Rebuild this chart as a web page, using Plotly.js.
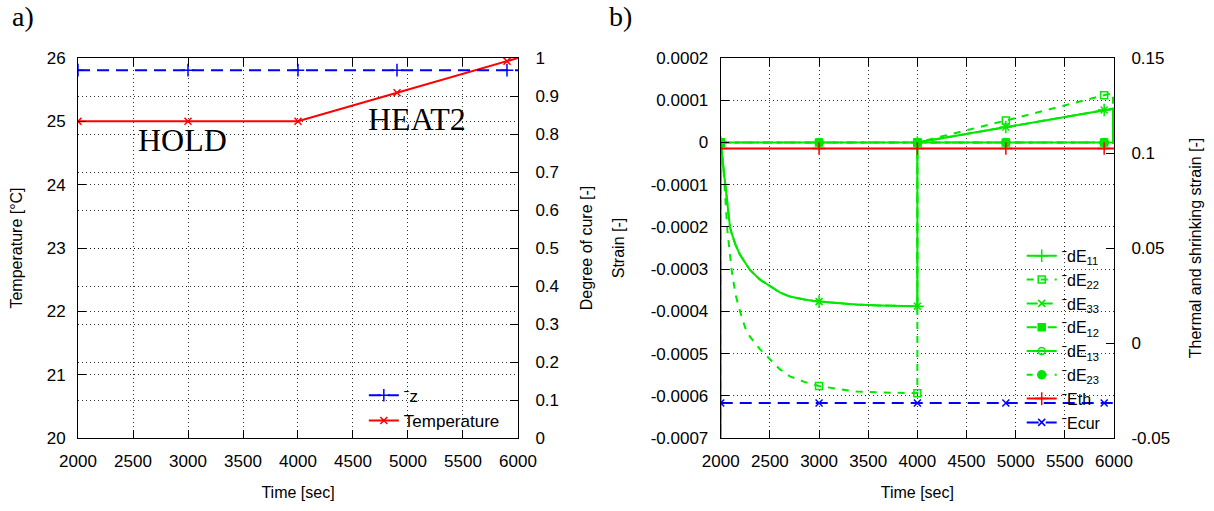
<!DOCTYPE html>
<html><head><meta charset="utf-8">
<script src="https://cdn.plot.ly/plotly-3.0.1.min.js"></script>
<style>html,body{margin:0;padding:0;background:#fff}#chart{width:1214px;height:511px}</style>
</head><body><div id="chart"></div>
<script>
// ---------- Panel a) data ----------
const timeA = [2000, 3000, 4000, 4900, 5900, 6000];
const temperature = [25, 25, 25, 25.45, 25.95, 26];
const cureZ = [0.968, 0.968, 0.968, 0.968, 0.968, 0.968];
const markerTimes = [2000, 3000, 4000, 4900, 5900];

// ---------- Panel b) data ----------
const timeB = [2000, 2000, 2030, 2067, 2094, 2111, 2150, 2196, 2250, 2297, 2400, 2501, 2600, 2704, 2850, 3000,
               3200, 3381, 3600, 3800, 4000, 4000, 4900, 5900, 5990, 5990, 6000];
const dE11 = [-0.0008, 0, -0.000065, -0.00014, -0.0002, -0.000215, -0.000242, -0.000266, -0.000287, -0.000302,
              -0.000325, -0.000341, -0.000355, -0.000365, -0.000372, -0.000377, -0.000381, -0.000384, -0.000386,
              -0.000387, -0.000388, 0, 0.0000365, 0.000077, 0.00008, 0, 0];
const dE22 = [0, 0, -0.00007, -0.000207, -0.00027, -0.000302, -0.00036, -0.0004, -0.00044, -0.00046,
              -0.00049, -0.000515, -0.000537, -0.000554, -0.000567, -0.000577, -0.000584, -0.00059, -0.000592,
              -0.000593, -0.000594, 0, 0.000052, 0.000112, 0.000117, 0, 0];
const dE33 = [-0.0008, 0, -0.000065, -0.00014, -0.0002, -0.000215, -0.000242, -0.000266, -0.000287, -0.000302,
              -0.000325, -0.000341, -0.000355, -0.000365, -0.000372, -0.000377, -0.000381, -0.000384, -0.000386,
              -0.000387, -0.000388, 0, 0.0000365, 0.000077, 0.00008, 0, 0];
const timeFlat = [2000, 3000, 4000, 4900, 5900, 6000];
const dE12 = [0, 0, 0, 0, 0, 0];
const dE13 = [0, 0, 0, 0, 0, 0];
const dE23 = [0, 0, 0, 0, 0, 0];
const Eth = [0.1024, 0.1024, 0.1024, 0.1024, 0.1024, 0.1024];
const Ecur = [-0.0316, -0.0316, -0.0316, -0.0316, -0.0316, -0.0316];

const strainTicks = [-0.0007, -0.0006, -0.0005, -0.0004, -0.0003, -0.0002, -0.0001, 0, 0.0001, 0.0002];
const strainTickText = ['-0.0007', '-0.0006', '-0.0005', '-0.0004', '-0.0003', '-0.0002', '-0.0001', '0', '0.0001', '0.0002'];
const thermTicks = [-0.05, 0, 0.05, 0.1, 0.15];
const thermTickText = ['-0.05', '0', '0.05', '0.1', '0.15'];

// ---------- styling ----------
const GREEN = '#00e800', RED = '#ff0000', BLUE = '#0000ff';
const SANS = 'Liberation Sans, Arial, sans-serif';
const SERIF = 'Liberation Serif, Times New Roman, serif';

function pick(t, v) {
  const xs = [], ys = [];
  t.forEach((tt, i) => { if (markerTimes.includes(tt)) { xs.push(tt); ys.push(v[i]); } });
  return {xs, ys};
}
function mk(symbol, color, size) {
  return {symbol: symbol, size: size, color: color, line: {color: color, width: 1.5}};
}
const traces = [];
function series(t, v, name, color, dash, symbol, size, xa, ya, leg) {
  traces.push({x: t, y: v, mode: 'lines', line: {color: color, width: 2, dash: dash},
    xaxis: xa, yaxis: ya, showlegend: false, hoverinfo: 'skip'});
  const p = pick(t, v);
  traces.push({x: p.xs, y: p.ys, mode: 'markers', marker: mk(symbol, color, size),
    xaxis: xa, yaxis: ya, showlegend: false, hoverinfo: 'skip'});
  traces.push({x: [null], y: [null], mode: 'lines+markers', name: name, legend: leg,
    line: {color: color, width: 2, dash: dash}, marker: mk(symbol, color, size),
    xaxis: xa, yaxis: ya, showlegend: true});
}

// Panel a
series(timeA, cureZ, 'ˉz', BLUE, '12px,7px', 'cross-thin-open', 9, 'x', 'y2', 'legend');
series(timeA, temperature, 'Temperature', RED, 'solid', 'x-thin-open', 7, 'x', 'y', 'legend');
// Panel b
series(timeB, dE11, 'ˉdE<sub>11</sub>', GREEN, 'solid', 'cross-thin-open', 9, 'x2', 'y3', 'legend2');
series(timeB, dE22, 'ˉdE<sub>22</sub>', GREEN, '7px,7px', 'square-open', 7, 'x2', 'y3', 'legend2');
series(timeB, dE33, 'ˉdE<sub>33</sub>', GREEN, '11px,4px', 'x-thin-open', 7, 'x2', 'y3', 'legend2');
series(timeFlat, dE12, 'ˉdE<sub>12</sub>', GREEN, '10px,4px,3px,4px', 'square', 7, 'x2', 'y3', 'legend2');
series(timeFlat, dE13, 'ˉdE<sub>13</sub>', GREEN, 'solid', 'circle-open', 7, 'x2', 'y3', 'legend2');
series(timeFlat, dE23, 'ˉdE<sub>23</sub>', GREEN, '6px,8px', 'circle', 8, 'x2', 'y3', 'legend2');
series(timeFlat, Eth, 'ˉEth', RED, 'solid', 'cross-thin-open', 9, 'x2', 'y4', 'legend2');
series(timeFlat, Ecur, 'ˉEcur', BLUE, '12px,7px', 'x-thin-open', 7, 'x2', 'y4', 'legend2');

const GRID = 'rgba(0,0,0,0.8)';
const tickFont = {family: SANS, size: 17, color: '#000'};
const titleFont = {family: SANS, size: 16, color: '#000'};
function xax(domain, anchor) {
  return {domain: domain, anchor: anchor, range: [2000, 6000], dtick: 500, tick0: 2000,
    ticks: 'inside', ticklen: 8, tickcolor: '#000', showline: true, linecolor: '#000', linewidth: 1,
    mirror: 'ticks', showgrid: true, gridcolor: GRID, griddash: '1px,3px', gridwidth: 1, zeroline: false,
    tickfont: tickFont, ticklabelstandoff: 8,
    title: {text: 'Time [sec]', font: titleFont, standoff: 16}};
}
function yax(opts) {
  return Object.assign({ticks: 'inside', ticklen: 8, tickcolor: '#000', showline: true, linecolor: '#000',
    linewidth: 1, zeroline: false, tickfont: tickFont, gridcolor: GRID, griddash: '1px,3px', gridwidth: 1}, opts);
}

const layout = {
  width: 1214, height: 511,
  margin: {l: 78, r: 100, t: 58, b: 73},
  paper_bgcolor: '#fff', plot_bgcolor: '#fff',
  font: {family: SANS, color: '#000'},
  xaxis: xax([0, 0.4247], 'y'),
  yaxis: yax({anchor: 'x', range: [20, 26], dtick: 1, showgrid: true, ticklabelstandoff: 8,
    title: {text: 'Temperature [°C]', font: titleFont, standoff: 20}}),
  yaxis2: yax({anchor: 'x', overlaying: 'y', side: 'right', range: [0, 1], dtick: 0.1, showgrid: true,
    ticklabelstandoff: 13, title: {text: 'Degree of cure [-]', font: titleFont, standoff: 22}}),
  xaxis2: xax([0.6204, 1], 'y3'),
  yaxis3: yax({anchor: 'x2', range: [-0.0007, 0.0002], tickmode: 'array', tickvals: strainTicks,
    ticktext: strainTickText, showgrid: true, ticklabelstandoff: 8,
    title: {text: 'Strain [-]', font: titleFont, standoff: 22}}),
  yaxis4: yax({anchor: 'x2', overlaying: 'y3', side: 'right', range: [-0.05, 0.15], tickmode: 'array',
    tickvals: thermTicks, ticktext: thermTickText, showgrid: false, ticklabelstandoff: 13,
    title: {text: 'Thermal and shrinking strain [-]', font: titleFont, standoff: 20}}),
  legend: {x: 0.412, y: -0.002, xanchor: 'right', yanchor: 'bottom', bgcolor: 'rgba(0,0,0,0)',
    font: {family: SANS, size: 17, color: '#000'}, traceorder: 'normal'},
  legend2: {x: 0.992, y: -0.005, xanchor: 'right', yanchor: 'bottom', bgcolor: 'rgba(0,0,0,0)',
    font: {family: SANS, size: 16, color: '#000'}, traceorder: 'normal', tracegroupgap: 0},
  annotations: [
    {text: 'HOLD', xref: 'x', yref: 'y', x: 2953, y: 24.71, showarrow: false,
     font: {family: SERIF, size: 32, color: '#000'}},
    {text: 'HEAT2', xref: 'x', yref: 'y', x: 5085, y: 25.04, showarrow: false,
     font: {family: SERIF, size: 32, color: '#000'}},
    {text: 'a)', xref: 'paper', yref: 'paper', x: -0.0656, y: 1.108, xanchor: 'left', yanchor: 'middle',
     showarrow: false, font: {family: SERIF, size: 28, color: '#000'}},
    {text: 'b)', xref: 'paper', yref: 'paper', x: 0.5106, y: 1.108, xanchor: 'left', yanchor: 'middle',
     showarrow: false, font: {family: SERIF, size: 28, color: '#000'}}
  ]
};

Plotly.newPlot('chart', traces, layout, {displayModeBar: false, staticPlot: true});
</script></body></html>
